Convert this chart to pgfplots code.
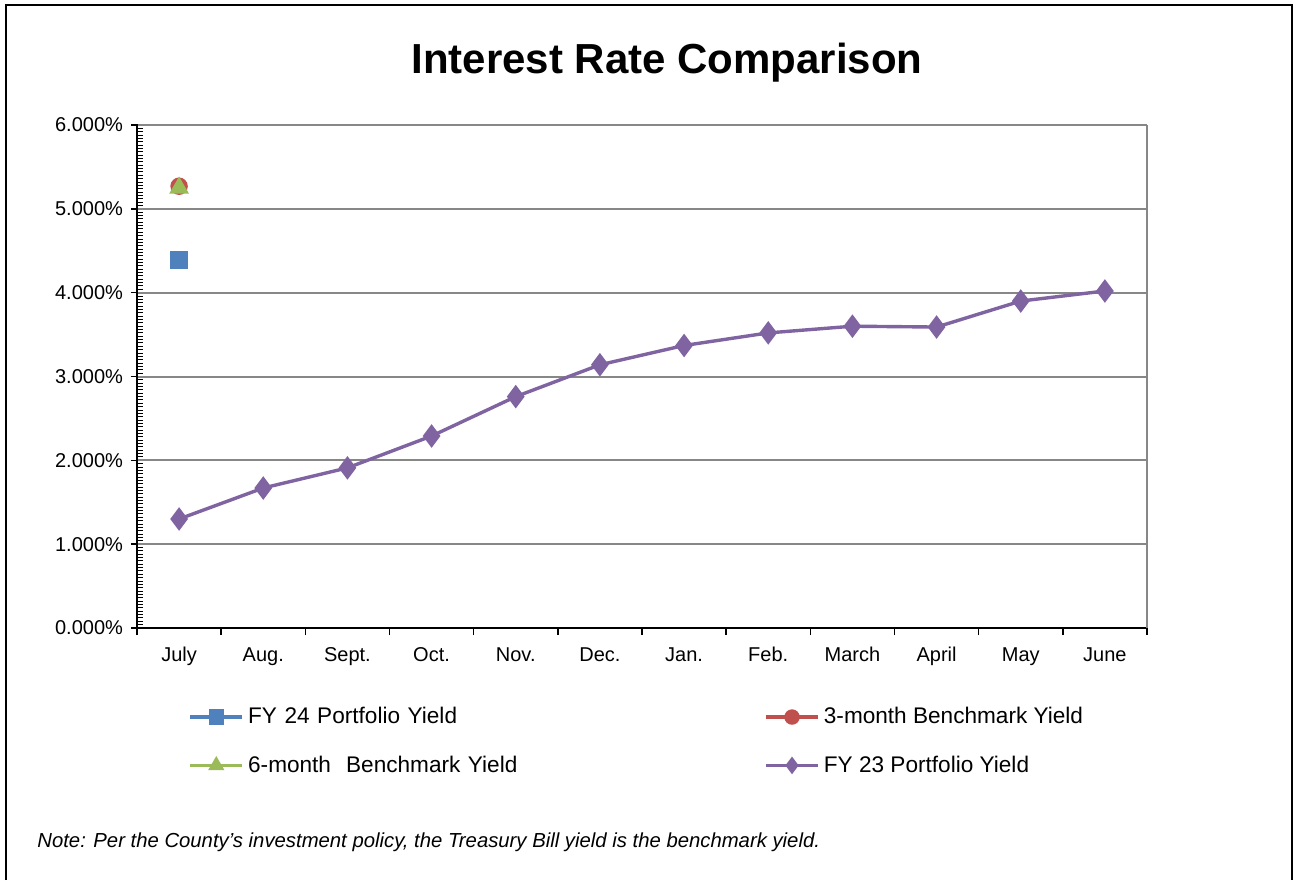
\documentclass[border=0pt]{standalone}
\usepackage{pgfplots}
\pgfplotsset{compat=1.18}
\usepackage{fontspec}
\setmainfont{Liberation Sans}
\definecolor{fyblue}{HTML}{4F81BD}
\definecolor{fyred}{HTML}{C0504D}
\definecolor{fygreen}{HTML}{9BBB59}
\definecolor{fypurple}{HTML}{8064A2}
\definecolor{gridgray}{HTML}{878787}
\begin{document}
\begin{tikzpicture}
\path[use as bounding box] (0,0) rectangle (649pt,440pt);
\draw[line width=1pt,black] (3pt,0pt) -- (3pt,437.5pt) -- (646pt,437.5pt) -- (646pt,0pt);
\node[font=\fontsize{21}{25}\selectfont\bfseries] at (333.5pt,408.5pt) {Interest Rate Comparison};
\node[font=\fontsize{10.15}{12}\selectfont\itshape, anchor=base west, inner sep=0pt] at (18.5pt,16.5pt) {Note: Per the County's investment policy, the Treasury Bill yield is the benchmark yield.};
\begin{axis}[
  at={(68.5pt,126pt)}, anchor=south west,
  width=505pt, height=251.5pt, scale only axis,
  xmin=-0.5, xmax=11.5, ymin=0, ymax=6,
  axis x line*=bottom, axis y line*=left,
  axis line style={black, line width=1pt},
  xtick={-0.5,0.5,...,11.5},
  xticklabels={July,Aug.,Sept.,Oct.,Nov.,Dec.,Jan.,Feb.,March,April,May,June},
  x tick label as interval,
  typeset ticklabels with strut,
  ytick={0,1,...,6},
  minor y tick num=24,
  tick align=outside,
  major tick length=3.5pt,
  minor tick length=2.5pt,
  x tick style={black, line width=0.8pt},
  y tick style={black, line width=0.8pt, xshift=0.5pt},
  minor y tick style={black, line width=0.5pt, xshift=2.5pt},
  ymajorgrids,
  grid style={gridgray, line width=1pt},
  yticklabel={\pgfmathprintnumber[fixed,fixed zerofill,precision=3]{\tick}\%},
  /pgf/number format/assume math mode=true,
  ticklabel style={font=\fontsize{10}{12}\selectfont},
  yticklabel style={xshift=0pt},
  xticklabel style={yshift=-1.5pt},
  legend columns=2,
  legend cell align=left,
  legend style={draw=none, fill=none, at={(0.0505,-0.149)}, anchor=north west,
    font=\fontsize{11.3}{13.5}\selectfont, row sep=10.5pt, inner sep=0pt,
    /tikz/column 2/.style={text width=256pt}},
  legend image code/.code={\draw[mark repeat=2,mark phase=2,mark size=3pt] plot coordinates {(0cm,0cm) (0.46cm,0cm) (0.92cm,0cm)};},
  clip=false,
]
\addplot[fyblue, line width=1.7pt, mark=square*, mark size=3.5pt, mark options={solid}] coordinates {(0,4.39)};
\addlegendentry{FY 24 Portfolio Yield}
\addplot[fyred, line width=1.7pt, mark=*, mark size=3.5pt] coordinates {(0,5.27)};
\addlegendentry{3-month Benchmark Yield}
\addplot[fygreen, line width=1.7pt, mark=triangle*, mark size=4pt] coordinates {(0,5.25)};
\addlegendentry{6-month\ \ Benchmark Yield}
\addplot[fypurple, line width=1.7pt, mark=diamond*, mark size=4.5pt] coordinates {
 (0,1.30) (1,1.67) (2,1.91) (3,2.29) (4,2.76) (5,3.14) (6,3.37) (7,3.52) (8,3.60) (9,3.59) (10,3.90) (11,4.02)};
\addlegendentry{FY 23 Portfolio Yield}
\draw[gridgray, line width=1pt] (rel axis cs:1,0) -- (rel axis cs:1,1);
\end{axis}
\end{tikzpicture}
\end{document}
